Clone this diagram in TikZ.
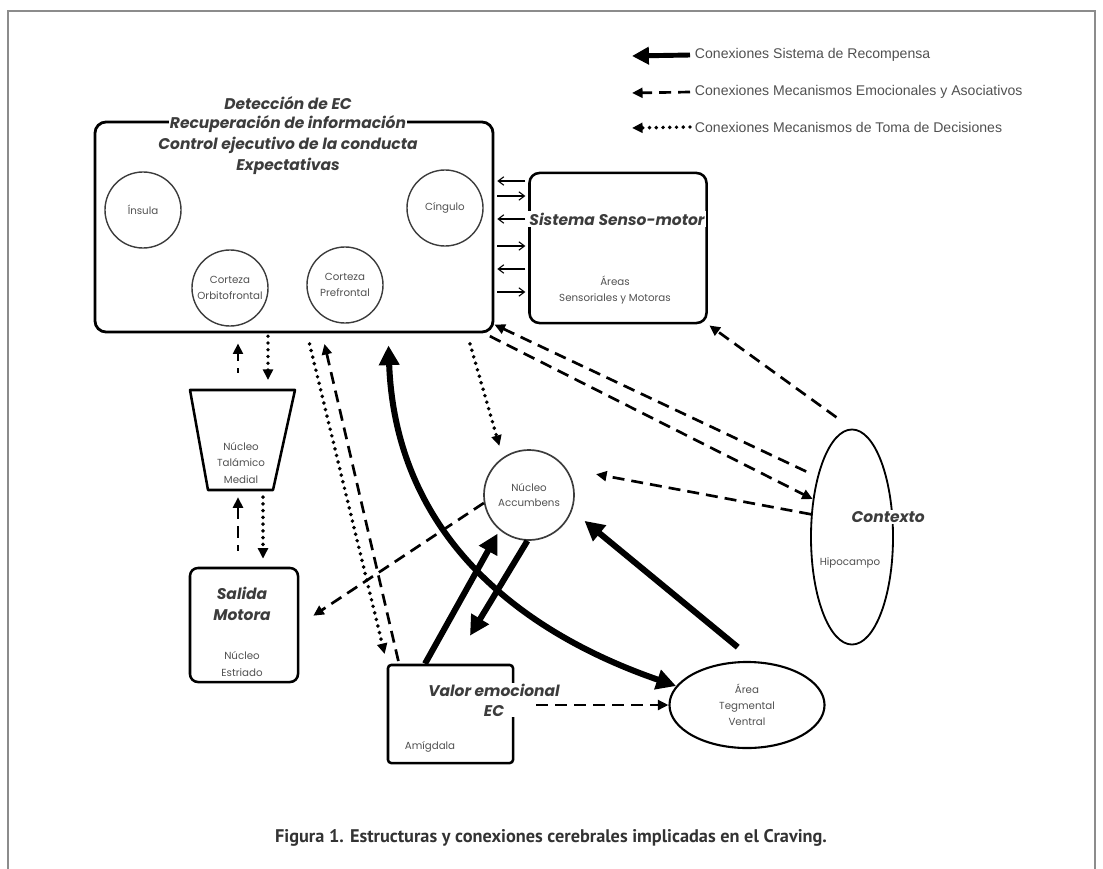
\documentclass[tikz,border=0pt]{standalone}
\usepackage{fontspec}
\setmainfont{Poppins}
\newfontfamily\legendfont{Liberation Sans}
\newfontfamily\captionfont{PT Sans}
\usetikzlibrary{arrows.meta,shapes.geometric}
\definecolor{inkgray}{RGB}{60,60,60}
\definecolor{softgray}{RGB}{80,80,80}
\definecolor{framegray}{RGB}{140,140,140}

\begin{document}
\begin{tikzpicture}[x=0.025cm,y=-0.025cm,
    box/.style={draw,line width=2pt,rounded corners=0.28cm,inner sep=0pt},
    area/.style={circle,draw=inkgray,line width=1pt,inner sep=0pt,minimum size=1.9cm,
        font=\fontsize{7.3}{11}\selectfont,text=softgray,align=center},
    title/.style={font=\fontsize{11}{15}\selectfont\bfseries\itshape,text=inkgray,inner sep=1pt},
    small/.style={font=\fontsize{7.3}{11.5}\selectfont,text=softgray,align=center,inner sep=1pt},
    legendtext/.style={font=\legendfont\fontsize{10}{12}\selectfont,text=softgray},
    reward/.style={line width=4.3pt,>={Triangle[length=14pt,width=14pt]}},
    emo/.style={line width=1.9pt,dash pattern=on 8.5pt off 5pt,>={Triangle[length=7.5pt,width=7pt]}},
    deci/.style={line width=2.8pt,line cap=round,dash pattern=on 0pt off 4.8pt,>={Triangle[length=7.5pt,width=7pt]}},
    link/.style={line width=0.8pt,-{Straight Barb[length=4pt,width=6pt]},shorten <=2pt,shorten >=2pt}]
    \useasboundingbox (0,0) rectangle (1103,868);

    % Frame
    \draw[framegray,line width=1pt] (8,880) -- (8,11) -- (1095,11) -- (1095,880);

    % Legend
    \node[legendtext,anchor=west] (leg1) at (690,55) {Conexiones Sistema de Recompensa};
    \node[legendtext,anchor=west] (leg2) at (690,92) {Conexiones Mecanismos Emocionales y Asociativos};
    \node[legendtext,anchor=west] (leg3) at (690,127) {Conexiones Mecanismos de Toma de Decisiones};
    \coordinate (leg1tip) at (632,56);
    \coordinate (leg2tip) at (632,93);
    \coordinate (leg3tip) at (632,128);
    \draw[reward,->,line width=3.5pt,>={Triangle[length=12pt,width=12pt]}] (leg1.west) -- (leg1tip);
    \draw[emo,->] (leg2.west) -- (leg2tip);
    \draw[deci,->] (leg3.west) -- (leg3tip);

    % Cortex box
    \node[box,minimum width=9.95cm,minimum height=5.25cm] (cortex) at (294,227) {};
    \node[title] (cortexa) at (288,103) {Detección de EC};
    \node[title,fill=white] (cortexb) at (288,124) {Recuperación de información};
    \node[title] (cortexc) at (288,145) {Control ejecutivo de la conducta};
    \node[title] (cortexd) at (288,166) {Expectativas};
    \node[area] (insula) at (143,210) {Ínsula};
    \node[area] (cingulo) at (445,208) {Cíngulo};
    \node[area] (cof) at (230,288) {Corteza\\Orbitofrontal};
    \node[area] (cpf) at (345,285) {Corteza\\Prefrontal};

    % Senso-motor box
    \node[box,rounded corners=0.25cm,line width=1.8pt,minimum width=4.425cm,minimum height=3.75cm] (senso) at (618,248) {};
    \node[title,fill=white] (sensotitle) at (617,219) {Sistema Senso-motor};
    \node[small] (areas) at (615,290) {Áreas\\Sensoriales y Motoras};
    \foreach \yy in {181,219,269}
        \draw[link] (senso.west |- 0,\yy) -- (cortex.east |- 0,\yy);
    \foreach \yy in {196,246,292}
        \draw[link] (cortex.east |- 0,\yy) -- (senso.west |- 0,\yy);

    % Nucleo talamico
    \draw[line width=1.8pt,line join=round] (190,390) -- (295,390) -- (273,490) -- (208,490) -- cycle;
    \coordinate (ntmtop) at (242,390);
    \coordinate (ntmbot) at (240,490);
    \node[small] (ntm) at (241,463) {Núcleo\\Talámico\\Medial};

    % Salida motora
    \node[box,rounded corners=0.2cm,line width=1.8pt,minimum width=2.7cm,minimum height=2.85cm] (salida) at (244,625) {};
    \node[title,align=center] (salidatitle) at (242,604) {Salida\\Motora};
    \node[small] (estriado) at (242,664) {Núcleo\\Estriado};

    % Amigdala
    \node[box,rounded corners=0.08cm,line width=1.8pt,minimum width=3.125cm,minimum height=2.45cm] (amig) at (450.5,714) {};
    \node[title,fill=white,align=center,font=\fontsize{11}{14}\selectfont\bfseries\itshape] (valor) at (494,700) {Valor emocional\\EC};
    \node[small] (amigtext) at (430,747) {Amígdala};

    % Accumbens, ATV, Contexto
    \node[area,minimum size=2.25cm,line width=1.2pt] (na) at (529,495) {Núcleo\\Accumbens};
    \node[ellipse,draw,line width=1.5pt,minimum width=3.875cm,minimum height=2.15cm,inner sep=0pt,small] (atv) at (747,705) {Área\\Tegmental\\Ventral};
    \node[ellipse,draw,line width=1.3pt,minimum width=2.05cm,minimum height=5.375cm,inner sep=0pt] (ctx) at (852,537) {};
    \node[title,fill=white,anchor=west] (ctxtitle) at (850,517) {Contexto};
    \node[small,fill=white,inner sep=0.5pt] (hipo) at (850,563) {Hipocampo};

    % Reward connections
    \draw[reward,->,shorten >=0.1cm] (amig.north -| 425,0) -- (na.230);
    \draw[reward,->,shorten >=0.82cm] (na.268) -- (amig.north -| 453,0);
    \draw[reward,->,shorten <=0.55cm,shorten >=0.4cm] (atv.80) -- (na.-20);
    \draw[reward,<->,shorten <=0.3cm] (cortex.south -| 388,0) .. controls (395,520) and (500,625) .. (atv.165);

    % Emotional and decision connections
    \draw[emo,<-,dash phase=3pt,shorten <=0.25cm,shorten >=0.42cm] (cortex.south -| 238,0) -- (ntmtop -| 238,0);
    \draw[deci,->,shorten <=0.07cm,shorten >=0.25cm] (cortex.south -| 268,0) -- (ntmtop -| 268,0);
    \draw[emo,<-,shorten <=0.18cm,shorten >=0.4cm] (ntmbot -| 238,0) -- (salida.north -| 238,0);
    \draw[deci,->,shorten <=0.18cm,shorten >=0.2cm] (ntmbot -| 263,0) -- (salida.north -| 263,0);
    \draw[deci,->,shorten <=0.27cm,shorten >=0.25cm] (cortex.south -| 307,0) -- (amig.north -| 387,0);
    \draw[emo,<-,shorten <=0.27cm] (cortex.south -| 322,0) -- (amig.north -| 399,0);
    \draw[deci,->,shorten <=0.27cm,shorten >=0.3cm] (cortex.south -| 467,0) -- (na.125);
    \draw[emo,->,shorten >=0.42cm] (na.190) -- (salida.east);
    \draw[emo,->,shorten <=0.55cm] (amig.east |- atv.west) -- (atv.west);
    \draw[emo,<-,shorten >=0.2cm] ([yshift=0.22cm]cortex.south east) -- (ctx.120);
    \draw[emo,->,shorten <=0.15cm] ([xshift=-0.25cm]cortex.south east) -- (ctx.136);
    \draw[emo,->,shorten >=0.75cm] (ctx.151) -- (na.35);
    \draw[emo,->,shorten <=0.48cm,shorten >=0.05cm] (ctx.north) -- (senso.south east);

    % Caption
    \node[font=\captionfont\bfseries\fontsize{13}{15}\selectfont,text=black!80] (caption) at (551,838)
        {Figura 1. Estructuras y conexiones cerebrales implicadas en el Craving.};
\end{tikzpicture}
\end{document}
